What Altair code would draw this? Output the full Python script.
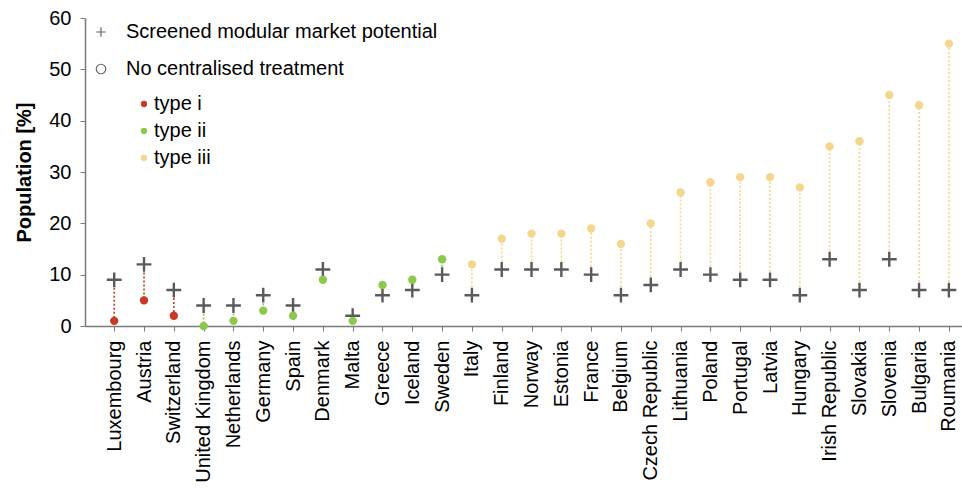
import altair as alt
import pandas as pd

countries = [
    "Luxembourg", "Austria", "Switzerland", "United Kingdom", "Netherlands",
    "Germany", "Spain", "Denmark", "Malta", "Greece", "Iceland", "Sweden",
    "Italy", "Finland", "Norway", "Estonia", "France", "Belgium",
    "Czech Republic", "Lithuania", "Poland", "Portugal", "Latvia", "Hungary",
    "Irish Republic", "Slovakia", "Slovenia", "Bulgaria", "Roumania",
]
# Screened modular market potential [% of population]
potential = [9, 12, 7, 4, 4, 6, 4, 11, 2, 6, 7, 10, 6, 11, 11, 11, 10, 6,
             8, 11, 10, 9, 9, 6, 13, 7, 13, 7, 7]
# Population with no centralised treatment [%]
no_treatment = [1, 5, 2, 0, 1, 3, 2, 9, 1, 8, 9, 13, 12, 17, 18, 18, 19, 16,
                20, 26, 28, 29, 29, 27, 35, 36, 45, 43, 55]
types = (["type i"] * 3 + ["type ii"] * 9 + ["type iii"] * 17)

type_names = ["type i", "type ii", "type iii"]
type_colors = ["#c93a22", "#8cc84b", "#f4d68c"]

S_POT = "Screened modular market potential"
S_NOT = "No centralised treatment"
PLUS = "M-1,0H1M0,-1V1"

df = pd.DataFrame({
    "country": countries,
    "potential": potential,
    "no_treatment": no_treatment,
    "type": types,
    "s_pot": S_POT,
    "s_not": S_NOT,
})

FONT = "Liberation Sans"
FS = 20

x_enc = alt.X(
    "country:N",
    sort=countries,
    scale=alt.Scale(type="point", padding=0.71, align=0.69),
    axis=alt.Axis(
        title=None, labelAngle=-90, labelAlign="right", labelBaseline="middle",
        labelPadding=9, tickSize=5, labelFontSize=FS, labelColor="#000",
        domainColor="#7a7a7a", domainWidth=1.5, tickColor="#7a7a7a",
        labelFont=FONT, labelLimit=0,
    ),
)
y_scale = alt.Scale(domain=[0, 60], nice=False)

shape_scale = alt.Scale(domain=[S_POT, S_NOT], range=[PLUS, "circle"])
color_scale = alt.Scale(domain=type_names, range=type_colors)

type_legend = alt.Legend(
    title=None, orient="none", legendX=49, legendY=76,
    labelFontSize=FS, labelFont=FONT, labelColor="#000",
    symbolType="circle", symbolSize=40, symbolStrokeWidth=0,
    rowPadding=7, labelOffset=0, labelLimit=0,
)

rules = alt.Chart(df).mark_rule(strokeDash=[2, 2], strokeWidth=1.6).encode(
    x=x_enc,
    y=alt.Y("potential:Q", scale=y_scale),
    y2="no_treatment:Q",
    color=alt.Color("type:N", scale=color_scale, legend=type_legend),
)

crosses = alt.Chart(df).mark_point(
    filled=False, strokeWidth=2.4, size=220, opacity=1, color="#5a5a5a"
).encode(
    x=x_enc,
    y=alt.Y(
        "potential:Q", scale=y_scale,
        axis=alt.Axis(
            title="Population [%]", titleFontSize=FS, titleFontWeight="bold",
            titleColor="#000", titleFont=FONT, titlePadding=14,
            values=list(range(0, 61, 10)), labelFontSize=FS, labelColor="#000",
            labelFont=FONT, labelPadding=9, tickSize=5, grid=False,
            domainColor="#7a7a7a", domainWidth=1.5, tickColor="#7a7a7a",
        ),
    ),
    shape=alt.Shape(
        "s_pot:N", scale=shape_scale,
        legend=alt.Legend(
            title=None, orient="none", legendX=6, legendY=4,
            labelFontSize=FS, labelFont=FONT, labelColor="#000",
            symbolSize=90, symbolStrokeWidth=1.2, symbolStrokeColor="#666",
            symbolFillColor="transparent", rowPadding=17, labelOffset=15,
            labelLimit=0,
        ),
    ),
)

dots = alt.Chart(df).mark_point(filled=True, size=70, opacity=1).encode(
    x=x_enc,
    y=alt.Y("no_treatment:Q", scale=y_scale),
    shape=alt.Shape("s_not:N", scale=shape_scale),
    color=alt.Color("type:N", scale=color_scale, legend=type_legend),
)

chart = alt.layer(rules, crosses, dots).resolve_legend(
    shape="shared", color="shared"
).properties(
    width=877, height=308,
    background="white",
    autosize=alt.AutoSizeParams(type="none"),
    padding={"left": 85, "top": 18, "right": 0, "bottom": 162},
).configure_view(stroke=None)

chart.save("out.html", embed_options={"renderer": "svg", "actions": False})
